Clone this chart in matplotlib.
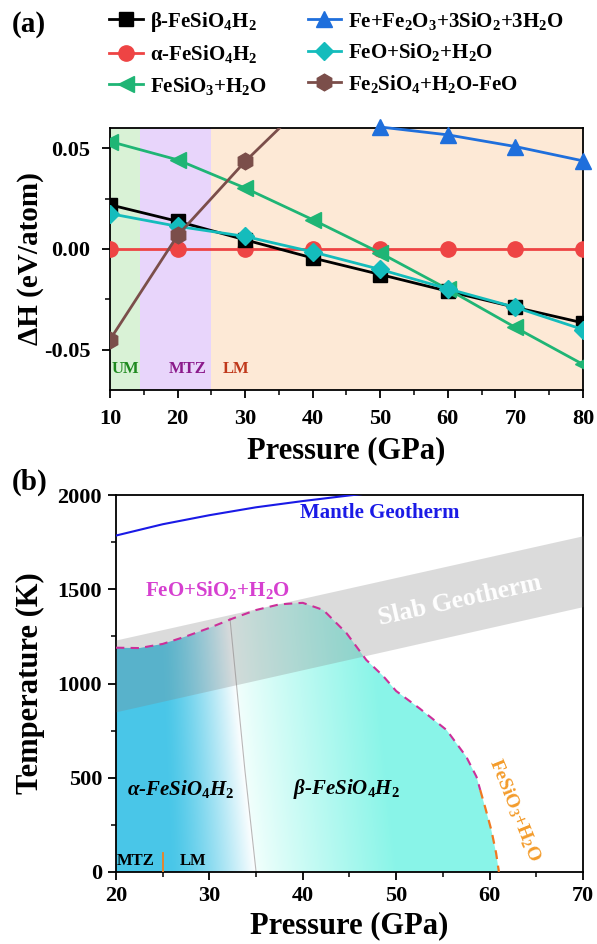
import matplotlib
matplotlib.use("Agg")
import matplotlib.pyplot as plt
import numpy as np
from matplotlib.patches import Polygon
from matplotlib.ticker import MultipleLocator, FormatStrFormatter

plt.rcParams["font.family"] = ["Liberation Serif", "DejaVu Serif"]
plt.rcParams["font.weight"] = "bold"
plt.rcParams["axes.labelweight"] = "bold"
plt.rcParams["axes.unicode_minus"] = False
plt.rcParams["mathtext.fontset"] = "custom"
plt.rcParams["mathtext.rm"] = "Liberation Serif:bold"
plt.rcParams["mathtext.bf"] = "Liberation Serif:bold"
plt.rcParams["mathtext.it"] = "Liberation Serif:bold:italic"
plt.rcParams["mathtext.default"] = "rm"

# ---- panel (a): enthalpy differences ----
pressure = [10, 20, 30, 40, 50, 60, 70, 80]
beta_h = [0.0219, 0.0137, 0.0045, -0.0045, -0.0127, -0.0210, -0.0290, -0.0367]
alpha_h = [0, 0, 0, 0, 0, 0, 0, 0]
fesio3_h = [0.0533, 0.0442, 0.0302, 0.0145, -0.0020, -0.0200, -0.0390, -0.0573]
feo_h = [0.0175, 0.0112, 0.0062, -0.0015, -0.0102, -0.0198, -0.0290, -0.0400]
fe2sio4_p = [10, 20, 30, 40]
fe2sio4_h = [-0.0450, 0.0067, 0.0434, 0.0760]
fe_p = [50, 60, 70, 80]
fe_h = [0.0605, 0.0566, 0.0508, 0.0437]

zone_edges = [10, 14.5, 25, 80]
zone_names = ["UM", "MTZ", "LM"]

# ---- panel (b): phase diagram ----
mantle_p = [20, 25, 30, 35, 40, 45, 50]
mantle_t = [1785, 1845, 1893, 1935, 1968, 1998, 2025]
slab_p = [20, 70]
slab_low = [850, 1408]
slab_high = [1231, 1784]
bnd_p = [20, 22.5, 25, 27.5, 30, 32.5, 35, 37.5, 40, 42.2, 44.7, 46.8,
         48.6, 50, 52.5, 55.4, 57.5, 58.6, 59.0]
bnd_t = [1190, 1188, 1210, 1250, 1295, 1345, 1390, 1420, 1428, 1390, 1266,
         1125, 1040, 960, 868, 753, 612, 505, 435]
orange_p = [59.0, 59.6, 60.2, 60.7, 61.0]
orange_t = [435, 330, 220, 100, 0]
ab_t = [0, 541, 1346]
ab_p = [35.0, 33.8, 32.2]

fig = plt.figure(figsize=(5.97, 9.44), dpi=100)

ax1 = fig.add_axes([0.1843, 0.5869, 0.7922, 0.2775])
zone_colors = ["#d9f2d6", "#e8d5fb", "#fde9d6"]
label_colors = ["#1f8a1f", "#8b1a8b", "#c0391b"]
for i in range(3):
    ax1.axvspan(zone_edges[i], zone_edges[i + 1], color=zone_colors[i], lw=0, zorder=0)
label_x = [12.3, 21.5, 28.6]
for x, name, c in zip(label_x, zone_names, label_colors):
    ax1.text(x, -0.0595, name, color=c, fontsize=12, ha="center", va="center")

lw = 2.0
ax1.plot(pressure, beta_h, "-s", color="black", lw=lw, ms=10, label=r"β-FeSiO$_4$H$_2$", zorder=5)
ax1.plot(pressure, alpha_h, "-o", color="#ee4444", lw=lw, ms=11, label=r"α-FeSiO$_4$H$_2$", zorder=4)
ax1.plot(pressure, fesio3_h, "-<", color="#1fb575", lw=lw, ms=11, label=r"FeSiO$_3$+H$_2$O", zorder=6)
ax1.plot(fe_p, fe_h, "-^", color="#1f6fdc", lw=lw, ms=11, clip_on=False,
         label=r"Fe+Fe$_2$O$_3$+3SiO$_2$+3H$_2$O", zorder=6)
ax1.plot(pressure, feo_h, "-D", color="#14bcbc", lw=lw, ms=9, label=r"FeO+SiO$_2$+H$_2$O", zorder=6)
ax1.plot(fe2sio4_p, fe2sio4_h, "-h", color="#7b4e4a", lw=lw, ms=12,
         label=r"Fe$_2$SiO$_4$+H$_2$O-FeO", zorder=7)

ax1.set_xlim(10, 80)
ax1.set_ylim(-0.07, 0.06)
ax1.xaxis.set_major_locator(MultipleLocator(10))
ax1.xaxis.set_minor_locator(MultipleLocator(5))
ax1.yaxis.set_major_locator(MultipleLocator(0.05))
ax1.yaxis.set_minor_locator(MultipleLocator(0.025))
ax1.yaxis.set_major_formatter(FormatStrFormatter("%.2f"))
ax1.set_xlabel("Pressure (GPa)", fontsize=22, labelpad=5)
ax1.set_ylabel("ΔH (eV/atom)", fontsize=21, labelpad=0)

handles, labels = ax1.get_legend_handles_labels()
fig.legend(handles, labels, ncol=2, loc="upper left", bbox_to_anchor=(0.1516, 1.0095),
           frameon=False, fontsize=15, handlelength=1.6, handletextpad=0.35,
           columnspacing=1.95, labelspacing=0.45)
fig.text(0.02, 0.974, "(a)", fontsize=21, va="center")

ax2 = fig.add_axes([0.1943, 0.0763, 0.7822, 0.3993])

# gradient fill of the stability field
gp = np.linspace(20, 62, 700)
gt = np.linspace(0, 1450, 400)
PP, TT = np.meshgrid(gp, gt)
pab = np.interp(TT, ab_t, ab_p)
blue = np.array([0.29, 0.78, 0.91])
cyan = np.array([0.54, 0.96, 0.91])
white = np.array([1.0, 1.0, 1.0])
xa = np.clip((PP - 20) / (pab - 20), 0, 1)
wa = np.clip((xa - 0.4) / 0.6, 0, 1) ** 1.3
col_a = blue * (1 - wa[..., None]) + white * wa[..., None]
wb = np.clip((PP - pab) / 15.0, 0, 1) ** 0.9
col_b = np.array([0.95, 1.0, 0.99]) * (1 - wb[..., None]) + cyan * wb[..., None]
img = np.where((PP < pab)[..., None], col_a, col_b)
im = ax2.imshow(img, extent=[20, 62, 0, 1450], origin="lower", aspect="auto", zorder=1)
poly_pts = list(zip(bnd_p, bnd_t)) + list(zip(orange_p, orange_t)) + [(20, 0)]
clip = Polygon(poly_pts, closed=True, transform=ax2.transData, fc="none", ec="none")
ax2.add_patch(clip)
im.set_clip_path(clip)

ax2.plot(ab_p, ab_t, color="#b8b8b8", lw=0.8, zorder=2)

ax2.fill_between(slab_p, slab_low, slab_high, color="#808080", alpha=0.28, lw=0, zorder=3)
ax2.plot(mantle_p, mantle_t, color="#1a1ae6", lw=1.5, zorder=4)
ax2.plot(bnd_p, bnd_t, color="#cc2f99", lw=1.5, ls=(0, (4, 3)), zorder=4)
ax2.plot(orange_p, orange_t, color="#f07820", lw=1.6, ls=(0, (4, 3)), zorder=4)
ax2.plot([25, 25], [0, 100], color="#f08020", lw=1.3, zorder=4)

ax2.text(39.7, 1905, "Mantle Geotherm", color="#1a1ae6", fontsize=15, ha="left", va="center")
ax2.text(56.8, 1440, "Slab Geotherm", color="white", fontsize=18.5, ha="center", va="center",
         rotation=12.5, rotation_mode="anchor")
ax2.text(30.9, 1496, r"FeO+SiO$_2$+H$_2$O", color="#d640d0", fontsize=15, ha="center", va="center")
ax2.text(62.7, 330, r"FeSiO$_3$+H$_2$O", color="#f39c2c", fontsize=14, ha="center", va="center",
         rotation=-68, rotation_mode="anchor")
ax2.text(26.9, 440, r"α-FeSiO$_\mathit{4}$H$_\mathit{2}$", fontsize=15, style="italic",
         ha="center", va="center")
ax2.text(44.7, 440, r"β-FeSiO$_\mathit{4}$H$_\mathit{2}$", fontsize=15, style="italic",
         ha="center", va="center")
ax2.text(22.1, 60, "MTZ", fontsize=12, ha="center", va="center")
ax2.text(28.2, 60, "LM", fontsize=12, ha="center", va="center")

ax2.set_xlim(20, 70)
ax2.set_ylim(0, 2000)
ax2.xaxis.set_major_locator(MultipleLocator(10))
ax2.xaxis.set_minor_locator(MultipleLocator(5))
ax2.yaxis.set_major_locator(MultipleLocator(500))
ax2.yaxis.set_minor_locator(MultipleLocator(250))
ax2.set_xlabel("Pressure (GPa)", fontsize=22, labelpad=4)
ax2.set_ylabel("Temperature (K)", fontsize=22, labelpad=9)
fig.text(0.02, 0.489, "(b)", fontsize=21, va="center")

for ax, pad in ((ax1, 8), (ax2, 4)):
    for s in ax.spines.values():
        s.set_linewidth(1.3)
    ax.tick_params(which="major", direction="out", length=6, width=1.3, labelsize=16, pad=pad)
    ax.tick_params(which="minor", direction="out", length=3.5, width=1.1)

fig.savefig("out.png", dpi=100)
